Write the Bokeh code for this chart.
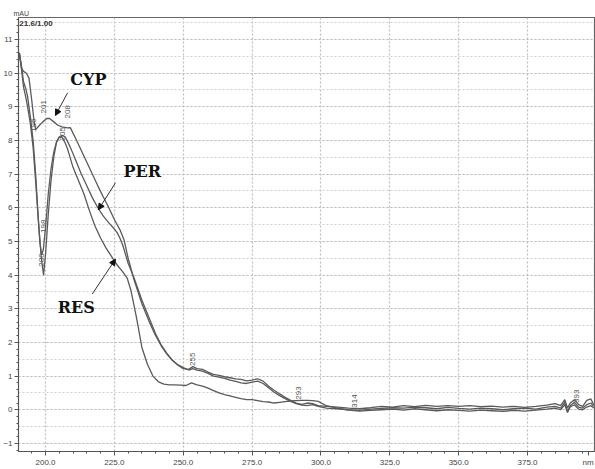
from bokeh.plotting import figure
from bokeh.models import (Range1d, FixedTicker, PrintfTickFormatter, Label, Arrow, NormalHead)
from bokeh.embed import file_html
from bokeh.resources import INLINE
import math

# ---------------- data ----------------
tail_x = [302, 306, 310, 314, 318, 322, 326, 330, 334, 338, 342, 346, 350, 354, 358, 362, 366,
          370, 374, 378, 382, 385, 387, 388.5, 389.5, 390.5, 392, 393.5, 395, 396.5, 398, 399]

cyp_x = [190.5, 191.3, 192.0, 193.0, 194.0, 195.0, 195.8, 196.4, 197.5, 199.0, 200.5, 201.5, 203.0,
         204.5, 206.0, 208.0, 209.0, 211, 213, 215, 217, 219, 221, 223, 225, 227, 228.5, 230, 232,
         235, 238, 240, 242, 244, 246, 248, 250, 252, 253.5, 255, 257, 259, 261, 263, 265, 267, 269,
         271, 273, 275, 277, 279, 281, 283, 285, 287, 289, 291, 293, 295, 297, 299] + tail_x
cyp_y = [10.6, 10.15, 10.05, 10.0, 9.85, 9.2, 8.6, 8.32, 8.42, 8.55, 8.65, 8.65, 8.55, 8.45, 8.4,
         8.37, 8.38, 8.05, 7.7, 7.35, 7.0, 6.65, 6.32, 6.0, 5.65, 5.35, 5.05, 4.5, 3.9, 3.15, 2.55,
         2.2, 1.9, 1.66, 1.47, 1.33, 1.22, 1.2, 1.28, 1.22, 1.2, 1.12, 1.05, 1.02, 0.98, 0.95, 0.92,
         0.9, 0.86, 0.88, 0.92, 0.85, 0.7, 0.58, 0.47, 0.37, 0.28, 0.2, 0.16, 0.2, 0.18, 0.12,
         0.1, 0.08, 0.05, 0.03, 0.06, 0.1, 0.08, 0.12, 0.09, 0.13, 0.1, 0.12, 0.1, 0.12, 0.09, 0.11,
         0.08, 0.1, 0.07, 0.1, 0.14, 0.18, 0.12, 0.3, 0.05, 0.2, 0.3, 0.15, 0.1, 0.28, 0.32, 0.15]

per_x = [190.5, 191.3, 192.0, 192.8, 193.5, 194.5, 195.5, 196.5, 197.3, 198.0, 198.6, 199.2, 200.0,
         201.0, 202.0, 203.0, 204.0, 205.0, 206.0, 207.2, 209, 211, 213, 215, 217, 219, 221, 223,
         225, 226, 227, 228, 230, 232, 235, 238, 240, 242, 244, 246, 248, 250, 252, 253.5, 255, 257,
         259, 261, 263, 265, 267, 269, 271, 273, 275, 277, 279, 281, 283, 285, 287, 289, 291, 293,
         295, 297, 299] + tail_x
per_y = [10.6, 10.2, 9.75, 9.55, 9.3, 8.7, 8.0, 6.9, 5.8, 4.95, 4.6, 4.75, 5.4, 6.4, 7.15, 7.65,
         7.95, 8.1, 8.15, 8.1, 7.8, 7.4, 7.0, 6.65, 6.3, 6.0, 5.75, 5.55, 5.37, 5.26, 5.1, 4.9, 4.35,
         3.95, 3.25, 2.65, 2.25, 1.93, 1.68, 1.48, 1.34, 1.25, 1.18, 1.22, 1.18, 1.15, 1.08, 1.0,
         0.97, 0.93, 0.88, 0.84, 0.8, 0.78, 0.82, 0.85, 0.78, 0.65, 0.52, 0.42, 0.33, 0.25, 0.18,
         0.14, 0.12, 0.15, 0.1,
         0.05, 0.03, 0.0, -0.02, 0.02, 0.04, 0.06, 0.05, 0.08, 0.06, 0.03, 0.07, 0.04, 0.02, 0.05,
         0.03, 0.0, 0.03, 0.05, 0.02, 0.08, 0.1, 0.05, 0.22, -0.05, 0.12, 0.22, 0.08, 0.05, 0.15,
         0.2, 0.1]

res_x = [190.5, 191.3, 192.0, 192.8, 193.5, 194.5, 195.5, 196.5, 197.5, 198.5, 199.3, 200.0, 201.0,
         202.0, 203.0, 204.0, 205.0, 205.8, 207, 208, 210, 212, 214, 216, 218, 220, 222, 224, 226,
         228, 229.7, 231, 233, 235, 237, 239, 241, 243, 245, 247, 249, 251, 253, 254, 255, 257, 259,
         261, 263, 265, 267, 269, 271, 273, 275, 277, 279, 281, 283, 285, 287, 289, 291, 293, 295,
         297, 299] + tail_x
res_y = [10.6, 10.1, 9.6, 9.3, 9.0, 8.5, 7.8, 6.7, 5.5, 4.5, 4.0, 4.6, 5.8, 6.8, 7.5, 7.95, 8.1,
         8.12, 7.95, 7.75, 7.2, 6.8, 6.4, 5.9, 5.45, 5.1, 4.8, 4.55, 4.3, 4.1, 3.9, 3.55, 2.75, 1.85,
         1.35, 1.0, 0.83, 0.76, 0.74, 0.74, 0.73, 0.72, 0.8, 0.77, 0.74, 0.7, 0.64, 0.57, 0.5, 0.45,
         0.41, 0.37, 0.33, 0.3, 0.3, 0.27, 0.24, 0.23, 0.2, 0.22, 0.24, 0.26, 0.27, 0.28, 0.28, 0.27,
         0.25,
         0.12, 0.05, -0.01, -0.04, -0.02, 0.0, 0.02, -0.01, 0.03, 0.0, -0.03, 0.0, -0.02, -0.04,
         -0.01, -0.03, -0.05, -0.02, -0.04, -0.01, 0.02, 0.05, 0.0, 0.15, -0.08, 0.08, 0.15, 0.02,
         0.0, 0.08, 0.12, 0.05]

# peak labels: (x, y, text)
peak_x = [195.6, 199.3, 206.0, 208.0, 199.3, 198.6, 253.3, 291.7, 312.3, 392.7]
peak_y = [8.25, 8.8, 8.0, 8.65, 5.25, 4.25, 1.3, 0.3, 0.06, 0.2]
peak_txt = ["196", "201", "205", "208", "198", "200", "255", "293", "314", "393"]

series_names = ["CYP", "PER", "RES"]
name_x = [215.6, 235.1, 211.2]
name_y = [9.82, 7.09, 3.03]
arrow_start = [(208.0, 9.41), (225.4, 6.74), (217.0, 3.44)]
arrow_end = [(203.6, 8.74), (219.2, 5.94), (225.4, 4.47)]

x_major = [200, 225, 250, 275, 300, 325, 350, 375]
x_unit_pos = 397
x_unit_text = "nm"
x_minor = [v for v in range(190, 400, 5)]
y_major = list(range(-1, 12))
y_minor = [v / 5 for v in range(-6, 59)]
y_grid_minor = [v / 2 for v in range(-2, 24)]

# ---------------- figure ----------------
p = figure(width=595, height=469, output_backend="svg", toolbar_location=None,
           x_range=Range1d(190.2, 399.3), y_range=Range1d(-1.24, 11.65),
           min_border_left=18, min_border_right=1, min_border_top=17, min_border_bottom=0)
p.background_fill_color = "white"
p.border_fill_color = "white"
p.outline_line_color = "#666666"
p.outline_line_width = 1.2

p.title.text = "mAU"
p.title.text_font = "Liberation Sans"
p.title.text_font_size = "7px"
p.title.text_font_style = "normal"
p.title.text_color = "#444444"
p.title.align = "left"
p.title.offset = -5
p.title.standoff = 2

p.xgrid.ticker = FixedTicker(ticks=x_major)
p.ygrid.ticker = FixedTicker(ticks=y_major, minor_ticks=y_grid_minor)
for g in (p.xgrid, p.ygrid):
    g.grid_line_color = "#bdbdbd"
    g.grid_line_dash = "2 2"
    g.grid_line_width = 1.2
p.ygrid.minor_grid_line_color = "#d0d0d0"
p.ygrid.minor_grid_line_dash = "2 2"
p.ygrid.minor_grid_line_width = 1.0

p.xaxis.ticker = FixedTicker(ticks=x_major + [x_unit_pos], minor_ticks=x_minor)
p.xaxis.formatter = PrintfTickFormatter(format="%.1f")
p.xaxis.major_label_overrides = {x_unit_pos: x_unit_text}
p.yaxis.ticker = FixedTicker(ticks=y_major, minor_ticks=y_minor)
for ax in (p.xaxis, p.yaxis):
    ax.axis_line_color = "#555555"
    ax.major_tick_line_color = "#555555"
    ax.minor_tick_line_color = "#555555"
    ax.major_tick_out = 4
    ax.major_tick_in = 0
    ax.minor_tick_out = 2
    ax.minor_tick_in = 0
    ax.major_label_text_font = "Liberation Sans"
    ax.major_label_text_font_size = "8px"
    ax.major_label_text_color = "#444444"
    ax.major_label_standoff = 2

line_color = "#5a5a5a"
p.line(cyp_x, cyp_y, line_color=line_color, line_width=1.3)
p.line(per_x, per_y, line_color=line_color, line_width=1.3)
p.line(res_x, res_y, line_color=line_color, line_width=1.3)

for x, y, t in zip(peak_x, peak_y, peak_txt):
    p.add_layout(Label(x=x, y=y, text=t, angle=math.pi / 2, text_align="left",
                       text_baseline="middle", text_font="Liberation Sans",
                       text_font_size="8px", text_color="#555555"))

for n, x, y in zip(series_names, name_x, name_y):
    p.add_layout(Label(x=x, y=y, text=n, text_align="center", text_baseline="middle",
                       text_font="DejaVu Serif", text_font_style="bold",
                       text_font_size="16px", text_color="#111111"))

for (xs, ys), (xe, ye) in zip(arrow_start, arrow_end):
    p.add_layout(Arrow(end=NormalHead(size=6, fill_color="#111111", line_color="#111111"),
                       x_start=xs, y_start=ys, x_end=xe, y_end=ye,
                       line_color="#333333", line_width=1))

p.add_layout(Label(x=190.5, y=11.62, text="21.6/1.00", text_font="Liberation Sans",
                   text_font_style="bold", text_font_size="8px", text_color="#333333",
                   text_baseline="top"))

open("out.html", "w").write(file_html(p, INLINE))
